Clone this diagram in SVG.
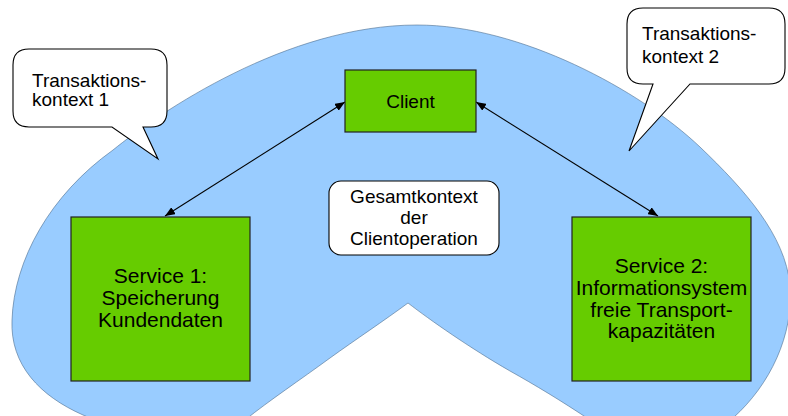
<svg xmlns="http://www.w3.org/2000/svg" width="788" height="416" viewBox="0 0 788 416">
  <defs>
    <style>
      text { font-family: "Liberation Sans", Arial, sans-serif; fill: #000; }
      .lbl { font-size: 19px; }
      .svc { font-size: 21px; text-anchor: middle; }
      .mid { text-anchor: middle; }
      .box { fill: #66cc00; stroke: #222; stroke-width: 1.2; }
      .callout { fill: #fff; stroke: #000; stroke-width: 1.1; stroke-linejoin: miter; }
      .link { fill: none; stroke: #000; stroke-width: 1.1; }
    </style>
    <marker id="head" viewBox="0 0 10 8" refX="10" refY="4" markerWidth="10" markerHeight="8" markerUnits="userSpaceOnUse" orient="auto-start-reverse">
      <path d="M0,0 L10,4 L0,8 Z" fill="#000"/>
    </marker>
  </defs>

  <!-- shared context area -->
  <path id="context-area" d="M408,303 C385,320 355,340 330,358 C300,380 270,400 245,420 C200,440 120,432 83,415 C40,396 10,365 12,320 C14,260 50,195 113,150 C160,112 287,25 417,25 C520,25 640,90 700,147 C745,190 785,235 790,285 C794,335 770,385 733,418 C710,440 620,440 590,420 C560,400 535,385 510,371 C470,348 430,320 408,303 Z" fill="#99ccff" stroke="#4f6f8f" stroke-width="0.6"/>

  <!-- connectors -->
  <g id="connectors">
    <line class="link" x1="345" y1="102" x2="165" y2="216" marker-start="url(#head)" marker-end="url(#head)"/>
    <line class="link" x1="476" y1="102" x2="658" y2="216" marker-start="url(#head)" marker-end="url(#head)"/>
  </g>

  <g id="client">
    <rect class="box" x="345" y="70" width="131" height="62"/>
    <text class="lbl mid" x="410.5" y="108">Client</text>
  </g>

  <g id="service1">
    <rect class="box" x="71" y="217" width="179" height="164"/>
    <text class="svc" x="160.5" y="283">Service 1:</text>
    <text class="svc" x="160.5" y="305">Speicherung</text>
    <text class="svc" x="160.5" y="327">Kundendaten</text>
  </g>

  <g id="service2">
    <rect class="box" x="572" y="217" width="179" height="164"/>
    <text class="svc" x="661.5" y="273">Service 2:</text>
    <text class="svc" x="661.5" y="295">Informationsystem</text>
    <text class="svc" x="661.5" y="317">freie Transport-</text>
    <text class="svc" x="661.5" y="338">kapazitäten</text>
  </g>

  <g id="overall-context">
    <rect x="329" y="181" width="170" height="74" rx="12" fill="#fff" stroke="#000" stroke-width="1.1"/>
    <text class="lbl mid" x="414" y="203">Gesamtkontext</text>
    <text class="lbl mid" x="414" y="224">der</text>
    <text class="lbl mid" x="414" y="245">Clientoperation</text>
  </g>

  <g id="transaction-context-1">
    <path class="callout" d="M29,49 H151 Q167,49 167,65 V111 Q167,127 151,127 H143 L158,159 L112,127 H29 Q13,127 13,111 V65 Q13,49 29,49 Z"/>
    <text class="lbl" x="32" y="87">Transaktions-</text>
    <text class="lbl" x="32" y="106">kontext 1</text>
  </g>

  <g id="transaction-context-2">
    <path class="callout" d="M643,8 H769 Q785,8 785,24 V68 Q785,84 769,84 H690 L629,151 L653,84 H643 Q627,84 627,68 V24 Q627,8 643,8 Z"/>
    <text class="lbl" x="642" y="40">Transaktions-</text>
    <text class="lbl" x="642" y="63">kontext 2</text>
  </g>
</svg>
